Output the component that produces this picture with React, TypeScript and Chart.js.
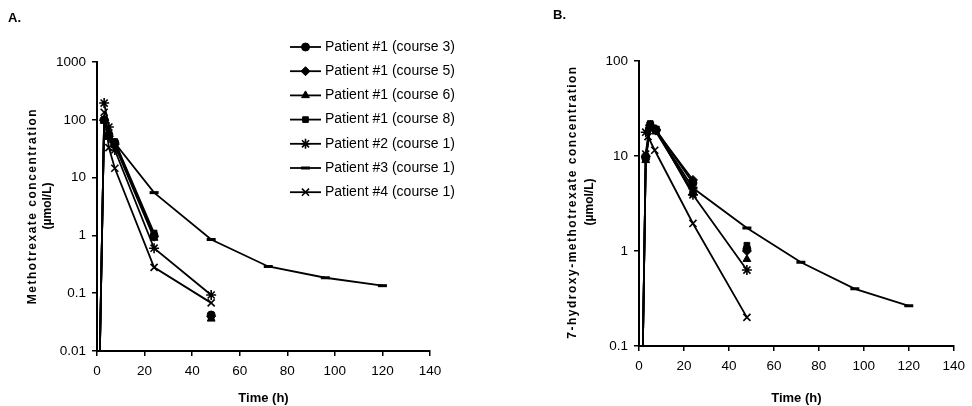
import React, { useEffect, useRef } from 'react';
import { Chart, registerables } from 'chart.js';
import { drawPoint } from 'chart.js/helpers';

Chart.register(...registerables);

// ---------- shared ----------
const seriesLabels = [
  'Patient #1 (course 3)',
  'Patient #1 (course 5)',
  'Patient #1 (course 6)',
  'Patient #1 (course 8)',
  'Patient #2 (course 1)',
  'Patient #3 (course 1)',
  'Patient #4 (course 1)',
];
const pointStyles = ['circle', 'rectRot', 'triangle', 'rect', 'star', 'line', 'crossRot'];
const pointRadii = [4, 4.5, 4.5, 4, 5, 4.5, 5];
const pointBorders = [1, 1, 1, 1, 1.6, 3, 1.6];

const xTicks = [0, 20, 40, 60, 80, 100, 120, 140];

// ---------- Panel A: methotrexate ----------
const yTicksA = [0.01, 0.1, 1, 10, 100, 1000];
const timesA_P1 = [0, 3, 5, 7.5, 24, 36, 48];
const mtxP1c3 = [0.00002, 100, 55, 40, 1.0, null, 0.042];
const mtxP1c5 = [0.00002, 98, 52, 38, 0.95, null, 0.04];
const mtxP1c6 = [0.00002, 95, 50, 36, 0.9, null, 0.036];
const mtxP1c8 = [0.00002, 100, 58, 42, 1.1, null, 0.038];
const timesA_P2 = [3, 5, 7.5, 24, 48];
const mtxP2 = [195, 75, 30, 0.6, 0.093];
const timesA_P3 = [0, 3, 7, 24, 48, 72, 96, 120];
const mtxP3 = [0.00002, 100, 42, 5.5, 0.85, 0.29, 0.185, 0.135];
const timesA_P4 = [3, 5, 7.5, 24, 48];
const mtxP4 = [135, 33, 14.5, 0.28, 0.068];

// ---------- Panel B: 7-hydroxy-methotrexate ----------
const yTicksB = [0.1, 1, 10, 100];
const timesB_P1 = [0, 3, 5, 7.5, 24, 36, 48];
const ohP1c3 = [0.0002, 9.5, 21, 19, 5.2, null, 1.05];
const ohP1c5 = [0.0002, 9.8, 20, 18.5, 5.6, null, 1.0];
const ohP1c6 = [0.0002, 9, 20, 18, 4.2, null, 0.82];
const ohP1c8 = [0.0002, 10, 22, 19, 4.0, null, 1.15];
const timesB_P2 = [3, 5, 7.5, 24, 48];
const ohP2 = [17.8, 21, 19, 3.9, 0.63];
const timesB_P3 = [0, 3, 5, 7.5, 24, 48, 72, 96, 120];
const ohP3 = [0.0002, 10, 20, 18.5, 4.6, 1.75, 0.76, 0.4, 0.265];
const timesB_P4 = [3, 4, 7, 24, 48];
const ohP4 = [10.5, 16, 11.5, 1.95, 0.2];

const FONT = '"Liberation Sans", Arial, Helvetica, sans-serif';

function pts(times: number[], vals: (number | null)[]) {
  return times.map((t, i) => ({ x: t, y: vals[i] }));
}

function makeDatasets(series: { x: number; y: number | null }[][]) {
  return series.map((data, i) => ({
    label: seriesLabels[i],
    data,
    borderColor: '#000',
    backgroundColor: '#000',
    borderWidth: 1.8,
    pointStyle: pointStyles[i],
    pointRadius: pointRadii[i],
    pointBorderWidth: pointBorders[i],
    pointBackgroundColor: '#000',
    pointBorderColor: '#000',
    pointHoverRadius: pointRadii[i],
    tension: 0,
    spanGaps: false,
  }));
}

function makeYTitle(lines: string[], xs: number[], spacing: string[], cy: number) {
  return {
    id: 'yTitleCustom',
    afterDraw(chart: any) {
      const ctx = chart.ctx;
      ctx.save();
      ctx.fillStyle = '#000';
      ctx.font = 'bold 12px ' + FONT;
      ctx.textAlign = 'center';
      ctx.textBaseline = 'middle';
      lines.forEach((line, i) => {
        ctx.save();
        ctx.translate(xs[i], cy);
        ctx.rotate(-Math.PI / 2);
        (ctx as any).letterSpacing = spacing[i];
        ctx.fillText(line, 0, 0);
        ctx.restore();
      });
      ctx.restore();
    },
  };
}

function makeLegend(x0: number, x1: number, tx: number, y0: number, step: number) {
  return {
    id: 'legendBoxCustom',
    afterDraw(chart: any) {
      const ctx = chart.ctx;
      chart.data.datasets.forEach((ds: any, i: number) => {
        const y = y0 + i * step;
        ctx.save();
        ctx.strokeStyle = '#000';
        ctx.lineWidth = 1.8;
        ctx.beginPath();
        ctx.moveTo(x0, y);
        ctx.lineTo(x1, y);
        ctx.stroke();
        ctx.fillStyle = '#000';
        ctx.lineWidth = ds.pointBorderWidth;
        drawPoint(
          ctx,
          { pointStyle: ds.pointStyle, radius: ds.pointRadius, borderWidth: ds.pointBorderWidth, rotation: 0 } as any,
          (x0 + x1) / 2,
          y
        );
        ctx.font = '14px ' + FONT;
        ctx.textAlign = 'left';
        ctx.textBaseline = 'middle';
        ctx.fillText(ds.label, tx, y);
        ctx.restore();
      });
    },
  };
}

function buildConfig(opts: {
  datasets: any[];
  yMin: number;
  yMax: number;
  yTicks: number[];
  yWidth: number;
  xHeight: number;
  padTop: number;
  padRight: number;
  plugins: any[];
}) {
  return {
    type: 'line' as const,
    data: { datasets: opts.datasets },
    plugins: opts.plugins,
    options: {
      responsive: false,
      animation: false as const,
      events: [],
      layout: { padding: { left: 0, top: opts.padTop, right: opts.padRight, bottom: 0 } },
      plugins: { legend: { display: false }, tooltip: { enabled: false } },
      scales: {
        x: {
          type: 'linear' as const,
          min: 0,
          max: 140,
          afterBuildTicks: (s: any) => {
            s.ticks = xTicks.map((v) => ({ value: v }));
          },
          afterFit: (s: any) => {
            s.height = opts.xHeight;
          },
          ticks: { color: '#000', padding: 7, font: { family: FONT, size: 13.5 } },
          grid: { drawOnChartArea: false, drawTicks: true, tickLength: 5, color: '#000', lineWidth: 1.5 },
          border: { display: true, color: '#000', width: 2 },
          title: {
            display: true,
            text: 'Time (h)',
            color: '#000',
            padding: { top: 0, bottom: 0 },
            font: { family: FONT, size: 13, weight: 'bold' as const },
          },
        },
        y: {
          type: 'logarithmic' as const,
          min: opts.yMin,
          max: opts.yMax,
          afterBuildTicks: (s: any) => {
            s.ticks = opts.yTicks.map((v) => ({ value: v }));
          },
          afterFit: (s: any) => {
            s.width = opts.yWidth;
          },
          ticks: {
            color: '#000',
            padding: 6,
            autoSkip: false,
            font: { family: FONT, size: 13.5 },
            callback: (v: any) => String(v),
          },
          grid: { drawOnChartArea: false, drawTicks: true, tickLength: 5, color: '#000', lineWidth: 1.5 },
          border: { display: true, color: '#000', width: 2 },
        },
      },
    },
  };
}

function ChartCanvas({ cfg, left, width }: { cfg: () => any; left: number; width: number }) {
  const ref = useRef<HTMLCanvasElement | null>(null);
  useEffect(() => {
    if (!ref.current) return;
    const chart = new Chart(ref.current, cfg());
    return () => chart.destroy();
  }, []);
  return (
    <canvas
      ref={ref}
      width={width}
      height={406}
      style={{ position: 'absolute', left, top: 0, width, height: 406, display: 'block' }}
    />
  );
}

const cfgA = () =>
  buildConfig({
    datasets: makeDatasets([
      pts(timesA_P1, mtxP1c3),
      pts(timesA_P1, mtxP1c5),
      pts(timesA_P1, mtxP1c6),
      pts(timesA_P1, mtxP1c8),
      pts(timesA_P2, mtxP2),
      pts(timesA_P3, mtxP3),
      pts(timesA_P4, mtxP4),
    ]),
    yMin: 0.01,
    yMax: 1000,
    yTicks: yTicksA,
    yWidth: 97,
    xHeight: 55,
    padTop: 62,
    padRight: 486 - 430,
    plugins: [
      makeYTitle(['Methotrexate concentration', '(\u00b5mol/L)'], [33, 48], ['1.5px', '0px'], 206),
      makeLegend(290, 321, 325, 47, 24.2),
    ],
  });

const cfgB = () =>
  buildConfig({
    datasets: makeDatasets([
      pts(timesB_P1, ohP1c3),
      pts(timesB_P1, ohP1c5),
      pts(timesB_P1, ohP1c6),
      pts(timesB_P1, ohP1c8),
      pts(timesB_P2, ohP2),
      pts(timesB_P3, ohP3),
      pts(timesB_P4, ohP4),
    ]),
    yMin: 0.1,
    yMax: 100,
    yTicks: yTicksB,
    yWidth: 639 - 486,
    xHeight: 60,
    padTop: 61,
    padRight: 486 - (959 - 486),
    plugins: [
      makeYTitle(['7-hydroxy-methotrexate concentration', '(\u00b5mol/L)'], [87, 104], ['1.5px', '0px'], 202),
    ],
  });

export default function App() {
  const labelStyle: React.CSSProperties = {
    position: 'absolute',
    fontFamily: FONT,
    fontWeight: 'bold',
    fontSize: 13,
    lineHeight: '16px',
    color: '#000',
  };
  return (
    <div
      style={{
        position: 'fixed',
        left: 0,
        top: 0,
        width: 972,
        height: 406,
        background: '#fff',
        overflow: 'hidden',
      }}
    >
      <ChartCanvas cfg={cfgA} left={0} width={486} />
      <ChartCanvas cfg={cfgB} left={486} width={486} />
      <div style={{ ...labelStyle, left: 8, top: 10 }}>A.</div>
      <div style={{ ...labelStyle, left: 553, top: 7 }}>B.</div>
    </div>
  );
}
